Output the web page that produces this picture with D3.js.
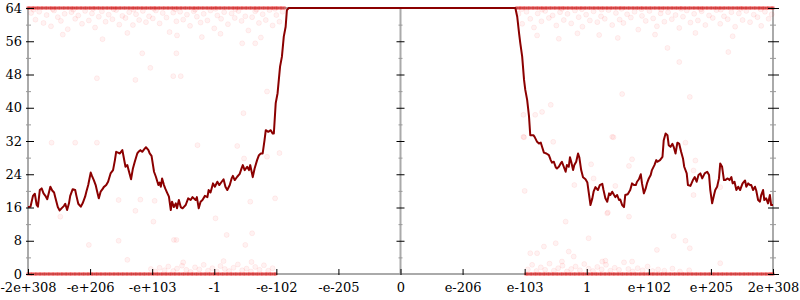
<!DOCTYPE html>
<html>
<head>
<meta charset="utf-8">
<script src="https://cdn.jsdelivr.net/npm/d3@7"></script>
<style>
  body { margin: 0; background: #fff; }
  svg text { font-family: "DejaVu Serif", serif; font-size: 13px; fill: #000; }
</style>
</head>
<body>
<svg id="chart" width="800" height="300"></svg>
<script>
// x is in ordinal-float "tick units": -6 = -2e+308, 0 = 0, 6 = 2e+308
const xTicks = [-6, -5, -4, -3, -2, -1, 0, 1, 2, 3, 4, 5, 6];
const xLabels = ["-2e+308", "-e+206", "-e+103", "-1", "-e-102", "-e-205", "0",
                 "e-206", "e-103", "1", "e+102", "e+205", "2e+308"];
const yTicks = [0, 8, 16, 24, 32, 40, 48, 56, 64];
const yMinor = [4, 12, 20, 28, 36, 44, 52, 60];

// error (bits) curve
const errX = [-6.00,-5.96,-5.92,-5.89,-5.86,-5.84,-5.81,-5.78,-5.75,-5.72,-5.69,-5.66,-5.64,-5.61,-5.58,-5.56,
  -5.52,-5.49,-5.46,-5.42,-5.40,-5.37,-5.34,-5.32,-5.28,-5.24,-5.22,-5.19,-5.15,-5.12,-5.08,-5.06,-5.03,
  -4.99,-4.97,-4.94,-4.91,-4.89,-4.86,-4.83,-4.80,-4.78,-4.74,-4.71,-4.67,-4.63,-4.60,-4.58,-4.55,-4.52,
  -4.48,-4.46,-4.43,-4.40,-4.38,-4.34,-4.31,-4.28,-4.24,-4.22,-4.19,-4.16,-4.13,-4.10,-4.06,-4.04,-4.01,
  -3.97,-3.94,-3.90,-3.88,-3.86,-3.84,-3.81,-3.79,-3.76,-3.73,-3.70,-3.68,-3.65,-3.62,-3.60,-3.57,-3.54,
  -3.51,-3.46,-3.42,-3.38,-3.35,-3.30,-3.28,-3.25,-3.22,-3.19,-3.15,-3.11,-3.09,-3.06,-3.02,-2.99,-2.95,
  -2.92,-2.88,-2.85,-2.82,-2.79,-2.75,-2.72,-2.70,-2.67,-2.63,-2.59,-2.56,-2.54,-2.51,-2.47,-2.44,-2.42,
  -2.38,-2.35,-2.31,-2.28,-2.25,-2.22,-2.19,-2.17,-2.13,-2.09,-2.06,-2.04,-2.01,-1.98,-1.94,-1.91,-1.88,
  -1.85,-1.83,-1.80,
  1.85,1.88,1.91,1.93,1.96,1.99,2.01,2.04,2.07,2.09,2.14,2.16,2.20,2.23,2.26,2.28,2.31,2.35,2.39,2.42,
  2.44,2.47,2.50,2.52,2.55,2.58,2.60,2.63,2.66,2.68,2.71,2.73,2.75,2.78,2.80,2.83,2.86,2.88,2.91,2.94,
  2.98,3.01,3.03,3.06,3.09,3.11,3.14,3.18,3.21,3.25,3.27,3.30,3.33,3.36,3.38,3.41,3.44,3.46,3.49,3.52,
  3.54,3.57,3.60,3.62,3.66,3.70,3.73,3.76,3.79,3.81,3.84,3.87,3.89,3.92,3.95,3.97,4.00,4.03,4.05,4.09,
  4.12,4.14,4.18,4.22,4.24,4.27,4.30,4.32,4.35,4.38,4.40,4.43,4.46,4.49,4.52,4.55,4.57,4.61,4.63,4.67,
  4.71,4.74,4.77,4.80,4.83,4.86,4.90,4.94,4.97,4.99,5.02,5.05,5.07,5.10,5.13,5.15,5.18,5.21,5.23,5.27,
  5.30,5.33,5.35,5.38,5.41,5.44,5.47,5.49,5.51,5.55,5.57,5.60,5.63,5.65,5.68,5.71,5.73,5.76,5.79,5.81,
  5.84,5.86,5.89,5.92,5.95,5.97,6.00];
const errY = [16.1,16.2,18.8,19.3,16.6,16.2,20.2,20.6,19.4,18.8,18.0,19.8,21.0,20.1,19.6,18.4,
  16.1,15.3,15.8,16.4,16.9,15.4,17.0,18.8,20.4,20.2,18.8,16.9,16.2,17.0,18.6,19.8,21.4,
  24.4,23.6,22.6,21.4,20.1,18.2,19.8,20.4,20.9,21.4,22.2,24.2,25.0,27.4,29.4,29.2,29.0,
  29.8,28.2,25.8,26.2,25.0,22.8,25.4,27.0,29.0,29.4,29.8,29.4,30.0,30.5,29.8,29.0,28.4,
  24.6,23.4,21.4,22.0,21.0,23.0,21.4,20.6,19.6,18.6,15.4,17.4,16.1,17.0,15.8,17.8,16.1,
  15.8,16.6,18.2,17.8,18.5,17.8,18.5,15.8,17.4,17.8,18.8,18.5,20.2,19.6,21.8,21.0,22.2,
  21.4,22.2,22.8,21.0,20.2,21.4,23.0,23.6,22.6,23.4,24.1,25.4,26.2,25.0,25.8,25.0,26.2,
  23.3,25.4,27.4,28.6,29.0,29.0,32.2,34.6,34.2,34.6,33.8,33.8,41.1,43.5,49.9,52.3,57.1,
  59.5,63.5,64,
  64,61.9,57.9,55.5,52.3,46.7,44.3,41.9,37.9,33.4,33.4,33.0,31.8,31.4,31.6,30.6,29.2,29.0,28.6,27.4,
  26.8,27.0,25.7,25.4,25.8,26.6,27.0,25.8,24.6,26.2,25.8,28.1,27.0,25.0,26.2,27.0,29.0,28.1,25.0,23.3,
  22.8,22.0,19.8,16.6,18.2,19.8,20.9,20.2,21.4,21.7,20.2,18.2,17.4,19.4,19.0,19.8,19.0,18.5,19.0,17.8,
  17.9,16.6,16.1,19.0,19.2,20.2,21.8,21.4,21.4,22.2,22.8,24.0,21.8,19.4,20.6,21.8,23.0,23.8,25.0,26.2,
  27.4,27.0,27.4,28.2,32.2,33.8,33.4,31.0,30.6,31.3,30.6,29.0,31.6,31.3,29.4,27.8,25.8,24.2,21.4,21.2,
  22.6,23.3,22.2,23.8,24.2,23.0,24.2,24.6,23.8,20.2,17.0,19.0,20.2,21.0,23.0,26.6,25.8,22.6,22.6,23.0,
  22.6,23.3,21.8,22.2,20.2,21.0,20.2,21.0,21.8,22.5,21.0,21.8,21.4,21.4,20.2,21.0,20.1,17.8,17.4,19.0,
  20.2,17.8,18.2,17.0,19.0,16.6,16.6];

// sample points that hit exactly 64 bits
const hit64X = [-6.00,-5.97,-5.93,-5.90,-5.86,-5.83,-5.79,-5.76,-5.72,-5.69,-5.65,-5.62,-5.58,-5.55,-5.51,
  -5.48,-5.44,-5.41,-5.37,-5.34,-5.30,-5.27,-5.23,-5.20,-5.16,-5.13,-5.09,-5.06,-5.02,-4.99,-4.95,-4.92,
  -4.88,-4.85,-4.81,-4.78,-4.74,-4.71,-4.67,-4.64,-4.60,-4.57,-4.53,-4.50,-4.46,-4.43,-4.39,-4.36,-4.32,
  -4.29,-4.25,-4.22,-4.18,-4.15,-4.11,-4.08,-4.04,-4.01,-3.97,-3.94,-3.90,-3.87,-3.83,-3.80,-3.76,-3.73,
  -3.69,-3.66,-3.62,-3.59,-3.55,-3.52,-3.48,-3.45,-3.41,-3.38,-3.34,-3.31,-3.27,-3.24,-3.20,-3.17,-3.13,
  -3.10,-3.06,-3.03,-2.99,-2.96,-2.92,-2.89,-2.85,-2.82,-2.78,-2.75,-2.71,-2.68,-2.64,-2.61,-2.57,-2.54,
  -2.50,-2.47,-2.43,-2.40,-2.36,-2.33,-2.29,-2.26,-2.22,-2.19,-2.15,-2.12,-2.08,-2.05,-2.01,-1.98,-1.94,
  -1.91,-1.87,
  1.87,1.91,1.94,1.98,2.01,2.05,2.08,2.12,2.15,2.19,2.22,2.26,2.29,2.33,2.36,2.40,2.43,2.47,2.50,2.54,
  2.57,2.61,2.64,2.68,2.71,2.75,2.78,2.82,2.85,2.89,2.92,2.96,2.99,3.03,3.06,3.10,3.13,3.17,3.20,3.24,
  3.27,3.31,3.34,3.38,3.41,3.45,3.48,3.52,3.55,3.59,3.62,3.66,3.69,3.73,3.76,3.80,3.83,3.87,3.90,3.94,
  3.97,4.01,4.04,4.08,4.11,4.15,4.18,4.22,4.25,4.29,4.32,4.36,4.39,4.43,4.46,4.50,4.53,4.57,4.60,4.64,
  4.67,4.71,4.74,4.78,4.81,4.85,4.88,4.92,4.95,4.99,5.02,5.06,5.09,5.13,5.16,5.20,5.23,5.27,5.30,5.34,
  5.37,5.41,5.44,5.48,5.51,5.55,5.58,5.62,5.65,5.69,5.72,5.76,5.79,5.83,5.86,5.90,5.93,5.97,6.00];
// sample points that hit exactly 0 bits
const hit0X = [-6.00,-5.96,-5.93,-5.89,-5.86,-5.82,-5.79,-5.75,-5.72,-5.68,-5.65,-5.61,-5.58,-5.54,-5.51,
  -5.47,-5.44,-5.40,-5.37,-5.33,-5.30,-5.26,-5.23,-5.19,-5.16,-5.12,-5.09,-5.05,-5.02,-4.98,-4.95,-4.91,
  -4.88,-4.84,-4.81,-4.77,-4.74,-4.70,-4.67,-4.63,-4.60,-4.56,-4.53,-4.49,-4.46,-4.42,-4.39,-4.35,-4.32,
  -4.28,-4.25,-4.21,-4.18,-4.14,-4.11,-4.07,-4.04,-4.00,-3.97,-3.93,-3.90,-3.86,-3.83,-3.79,-3.76,-3.72,
  -3.69,-3.65,-3.62,-3.58,-3.55,-3.51,-3.48,-3.44,-3.41,-3.37,-3.34,-3.30,-3.27,-3.23,-3.20,-3.16,-3.13,
  -3.09,-3.06,-3.02,-2.99,-2.95,-2.92,-2.88,-2.85,-2.81,-2.78,-2.74,-2.71,-2.67,-2.64,-2.60,-2.57,-2.53,
  -2.50,-2.46,-2.43,-2.39,-2.36,-2.32,-2.29,-2.25,-2.22,-2.18,-2.15,-2.11,-2.08,-2.04,-2.01,
  2.02,2.05,2.09,2.12,2.16,2.19,2.23,2.26,2.30,2.33,2.37,2.40,2.44,2.47,2.51,2.54,2.58,2.61,2.65,2.68,
  2.72,2.75,2.79,2.82,2.86,2.89,2.93,2.96,3.00,3.03,3.07,3.10,3.14,3.17,3.21,3.24,3.28,3.31,3.35,3.38,
  3.42,3.45,3.49,3.52,3.56,3.59,3.63,3.66,3.70,3.73,3.77,3.80,3.84,3.87,3.91,3.94,3.98,4.01,4.05,4.08,
  4.12,4.15,4.19,4.22,4.26,4.29,4.33,4.36,4.40,4.43,4.47,4.50,4.54,4.57,4.61,4.64,4.68,4.71,4.75,4.78,
  4.82,4.85,4.89,4.92,4.96,4.99,5.03,5.06,5.10,5.13,5.17,5.20,5.24,5.27,5.31,5.34,5.38,5.41,5.45,5.48,
  5.52,5.55,5.59,5.62,5.66,5.69,5.73,5.76,5.80,5.83,5.87,5.90,5.94,5.97,6.00];

// other sample points [x, bits]
const samples = [
  [-5.95,62.8],[-5.88,61.2],[-5.82,63.1],[-5.75,60.4],[-5.7,62.3],[-5.63,59.6],[-5.58,63.4],[-5.52,61.8],
  [-5.47,60.9],[-5.41,62.6],[-5.36,58.9],[-5.3,63.0],[-5.24,61.4],[-5.19,62.2],[-5.13,60.2],[-5.08,63.3],
  [-5.02,61.0],[-4.97,62.7],[-4.92,59.3],[-4.86,61.9],[-4.81,63.2],[-4.75,60.7],[-4.7,62.4],[-4.64,61.3],
  [-4.58,63.5],[-4.53,60.0],[-4.48,62.1],[-4.43,61.6],[-4.37,63.0],[-4.31,59.9],[-4.26,62.5],[-4.21,61.1],
  [-4.15,63.3],[-4.1,60.6],[-4.05,62.0],[-3.99,61.5],[-3.94,63.4],[-3.88,60.3],[-3.83,62.8],[-3.77,61.7],
  [-3.72,58.2],[-3.66,62.9],[-3.61,60.8],[-3.55,63.1],[-3.5,61.2],[-3.44,62.4],[-3.39,59.7],[-3.33,63.2],
  [-3.28,61.9],[-3.22,60.5],[-3.17,62.6],[-3.11,61.0],[-3.06,63.4],[-3.0,59.1],[-2.95,62.2],[-2.89,61.4],
  [-2.84,63.0],[-2.78,60.1],[-2.72,62.7],[-2.67,61.6],[-2.61,63.3],[-2.56,60.9],[-2.5,62.0],[-2.45,58.6],
  [-2.39,61.8],[-2.34,63.2],[-2.28,60.4],[-2.22,62.5],[-2.17,61.1],[-2.11,63.5],[-2.06,59.8],[-2.0,62.3],
  [-1.95,60.7],[-1.9,63.1],
  [-5.91,63.6],[-5.6,63.7],[-5.27,63.6],[-4.95,63.8],[-4.62,63.7],[-4.3,63.6],[-3.97,63.8],[-3.63,63.7],
  [-3.31,63.6],[-2.98,63.8],[-2.66,63.7],[-2.32,63.6],[-2.02,63.8],
  [-5.44,57.6],[-4.4,58.0],[-3.6,57.4],[-2.9,57.8],[-2.25,56.9],[-4.8,56.5],[-3.2,57.0],
  [1.9,62.6],[1.96,60.2],[2.03,63.1],[2.09,61.4],[2.15,59.3],[2.21,62.7],[2.27,60.8],[2.33,63.3],
  [2.39,61.6],[2.45,62.2],[2.51,59.8],[2.57,63.0],[2.63,61.1],[2.69,62.6],[2.75,60.3],[2.81,63.4],
  [2.87,61.8],[2.93,59.5],[2.99,62.4],[3.05,61.0],[3.11,63.2],[3.17,60.6],[3.23,62.0],[3.29,61.4],
  [3.35,63.5],[3.41,59.9],[3.47,62.8],[3.53,61.2],[3.59,60.4],[3.65,62.5],[3.71,61.7],[3.77,63.1],
  [3.83,58.8],[3.89,62.1],[3.95,60.9],[4.01,63.3],[4.07,61.5],[4.13,59.6],[4.19,62.7],[4.25,60.7],
  [4.31,63.0],[4.37,61.3],[4.43,62.3],[4.49,59.2],[4.55,61.9],[4.61,63.4],[4.67,60.5],[4.73,62.6],
  [4.79,61.0],[4.85,63.2],[4.91,59.9],[4.97,62.2],[5.03,61.6],[5.09,63.5],[5.15,60.2],[5.21,62.0],
  [5.27,61.3],[5.33,63.0],[5.39,59.5],[5.45,62.7],[5.51,61.1],[5.57,63.3],[5.63,60.6],[5.69,62.4],
  [5.75,61.8],[5.81,59.7],[5.87,63.1],[5.93,61.4],[5.98,62.5],
  [1.95,63.7],[2.28,63.6],[2.6,63.8],[2.92,63.7],[3.24,63.6],[3.56,63.8],[3.88,63.7],[4.2,63.6],
  [4.52,63.8],[4.84,63.7],[5.16,63.6],[5.48,63.8],[5.8,63.7],
  [2.2,57.4],[2.85,57.9],[3.5,56.8],[4.1,57.6],[4.75,58.0],[5.35,57.2],[2.55,56.6],[3.2,57.5],
  // scattered samples
  [-4.89,47.1],[-4.27,46.7],[-4.16,53.1],[-4.03,49.6],[-3.66,47.6],[-3.54,47.6],[-3.61,53.1],
  [4.49,51.0],[3.57,43.3],[4.66,42.6],[4.30,54.4],[5.28,53.4],[2.42,40.7],[1.98,38.3],[2.17,38.3],
  [2.28,39.0],[1.98,33.0],[3.41,33.0],[2.46,31.8],[-2.15,43.9],[-2.53,38.7],[-2.34,55.5],[-2.55,55.5],
  [-5.62,31.6],[-5.24,31.6],[-4.89,31.6],[-3.27,31.0],[-2.63,30.8],[-2.52,27.8],[-2.15,28.2],[-1.95,29.1],
  [-4.54,17.8],[-4.19,17.9],[-3.96,17.6],[-4.27,15.2],[-2.42,17.4],[-2.02,18.2],[1.99,32.9],[3.43,32.9],
  [4.59,31.6],[4.75,27.3],[3.73,27.6],[3.68,26.0],[3.07,26.4],[4.72,24.9],[3.11,23.0],[2.80,21.4],
  [3.46,21.2],[5.15,20.9],[2.00,20.0],[4.72,19.0],[3.34,14.8],[-5.48,13.8],[-3.98,12.6],[-5.02,7.0],
  [-4.54,8.0],[-4.40,3.4],[-3.65,8.2],[-3.61,8.2],[-2.98,13.4],[-2.80,9.4],[-2.39,9.8],[-2.50,7.0],
  [2.66,12.6],[2.50,7.4],[2.31,6.6],[2.20,5.0],[2.09,5.0],[2.71,5.4],[2.79,4.2],[3.03,8.6],[3.33,14.6],
  [3.68,13.8],[4.40,9.1],[4.59,8.0],[4.66,6.2],[4.13,5.8],[5.15,2.6],[3.73,3.0],[3.25,3.0],
  // low-error cluster
  [-4.02,1.2],[-3.95,0.6],[-3.88,1.5],[-3.8,0.9],[-3.74,1.8],[-3.66,0.7],[-3.6,1.3],[-3.52,2.0],
  [-3.45,1.0],[-3.38,0.5],[-3.31,1.6],[-3.24,1.1],[-3.17,2.2],[-3.1,0.8],[-3.03,1.4],[-2.96,0.6],
  [-2.9,1.9],[-2.83,1.2],[-2.76,0.7],[-2.69,1.5],[-2.62,2.3],[-2.55,0.9],[-2.48,1.3],[-2.41,0.6],
  [-2.34,1.7],[-2.27,1.0],[-2.2,2.1],[-2.13,0.8],[-2.06,1.4],[-2.85,3.1],[-3.5,2.8],[-2.4,2.9],
  [2.05,1.1],[2.12,2.2],[2.19,0.7],[2.26,1.6],[2.33,1.0],[2.4,2.5],[2.47,0.8],[2.54,1.4],[2.61,2.0],
  [2.68,0.6],[2.75,1.2],[2.82,1.8],[2.89,0.9],[2.96,2.4],[3.03,1.3],[3.1,0.7],[3.17,1.7],[3.24,1.1],
  [3.31,2.2],[3.38,0.8],[3.45,1.5],[3.52,1.0],[3.6,2.8],[3.67,1.2],[3.74,0.6],[3.82,1.4],[3.9,0.9],
  [3.98,1.8],[4.06,0.7],[4.15,1.1],[4.25,0.8],[4.38,1.3],[4.5,0.6],[4.65,0.9],[3.3,3.2],[2.6,3.0]
];

const svg = d3.select("#chart"),
      m = {top: 8, right: 27, bottom: 26, left: 28},
      W = +svg.attr("width"), H = +svg.attr("height");

const x = d3.scaleLinear().domain([-6, 6]).range([m.left, W - m.right]);
const y = d3.scaleLinear().domain([0, 64]).range([H - m.bottom, m.top]);

// frame
svg.append("rect").attr("x", x(-6)).attr("y", y(64)).attr("width", x(6) - x(-6)).attr("height", y(0) - y(64))
  .attr("fill", "none").attr("stroke", "#aaa").attr("stroke-width", 2);
// y axis at x = 0
svg.append("line").attr("x1", x(0)).attr("x2", x(0)).attr("y1", y(0)).attr("y2", y(64))
  .attr("stroke", "#aaa").attr("stroke-width", 2);

// samples
const dots = svg.append("g");
dots.selectAll("circle.s").data(samples).enter().append("circle").attr("class", "s")
  .attr("cx", d => x(d[0])).attr("cy", d => y(d[1])).attr("r", 2.5)
  .attr("fill", "red").attr("fill-opacity", 0.05)
  .attr("stroke", "red").attr("stroke-opacity", 0.06);
dots.selectAll("circle.h64").data(hit64X).enter().append("circle").attr("class", "h64")
  .attr("cx", d => x(d)).attr("cy", y(64)).attr("r", 2)
  .attr("fill", "#e00").attr("fill-opacity", 0.4);
dots.selectAll("circle.h0").data(hit0X).enter().append("circle").attr("class", "h0")
  .attr("cx", d => x(d)).attr("cy", y(0)).attr("r", 2)
  .attr("fill", "#e00").attr("fill-opacity", 0.4);

// error line
const pts = errX.map((d, i) => [d, errY[i]]);
svg.append("path").datum(pts)
  .attr("fill", "none").attr("stroke", "#8b0000").attr("stroke-width", 2).attr("stroke-linejoin", "round")
  .attr("d", d3.line().x(d => x(d[0])).y(d => y(d[1])));

// axes
const left = svg.append("g").attr("transform", `translate(${x(-6)},0)`)
  .call(d3.axisLeft(y).tickValues(yTicks).tickSizeInner(-6).tickSizeOuter(0).tickPadding(6));
left.selectAll(".tick line").attr("x1", -2).attr("stroke", "#000");
svg.append("g").attr("transform", `translate(${x(-6)},0)`)
  .call(d3.axisLeft(y).tickValues(yMinor).tickSizeInner(-3).tickSizeOuter(0).tickFormat(""))
  .selectAll(".tick line").attr("x1", -2).attr("stroke", "#999");

const right = svg.append("g").attr("transform", `translate(${x(6)},0)`)
  .call(d3.axisRight(y).tickValues(yTicks).tickSizeInner(6).tickSizeOuter(0).tickFormat(""));
right.selectAll(".tick line").attr("x1", -5).attr("stroke", "#000");
svg.append("g").attr("transform", `translate(${x(6)},0)`)
  .call(d3.axisRight(y).tickValues(yMinor).tickSizeInner(3).tickSizeOuter(0).tickFormat(""))
  .selectAll(".tick line").attr("x1", -3).attr("stroke", "#999");

const mid = svg.append("g").attr("transform", `translate(${x(0)},0)`)
  .call(d3.axisRight(y).tickValues(yTicks.slice(1, -1)).tickSizeInner(4).tickSizeOuter(0).tickFormat(""));
mid.selectAll(".tick line").attr("x1", -4).attr("stroke", "#000");
svg.append("g").attr("transform", `translate(${x(0)},0)`)
  .call(d3.axisRight(y).tickValues(yMinor).tickSizeInner(2).tickSizeOuter(0).tickFormat(""))
  .selectAll(".tick line").attr("x1", -2).attr("stroke", "#999");

const bottom = svg.append("g").attr("transform", `translate(0,${y(0)})`)
  .call(d3.axisBottom(x).tickValues(xTicks).tickFormat((d, i) => xLabels[i])
    .tickSizeInner(-5).tickSizeOuter(0).tickPadding(9));
bottom.selectAll(".tick line").attr("y1", 1).attr("stroke", "#000");

svg.selectAll(".domain").remove();
svg.selectAll(".tick text").attr("font-family", "DejaVu Serif").attr("font-size", 13).attr("fill", "#000");
</script>
</body>
</html>
